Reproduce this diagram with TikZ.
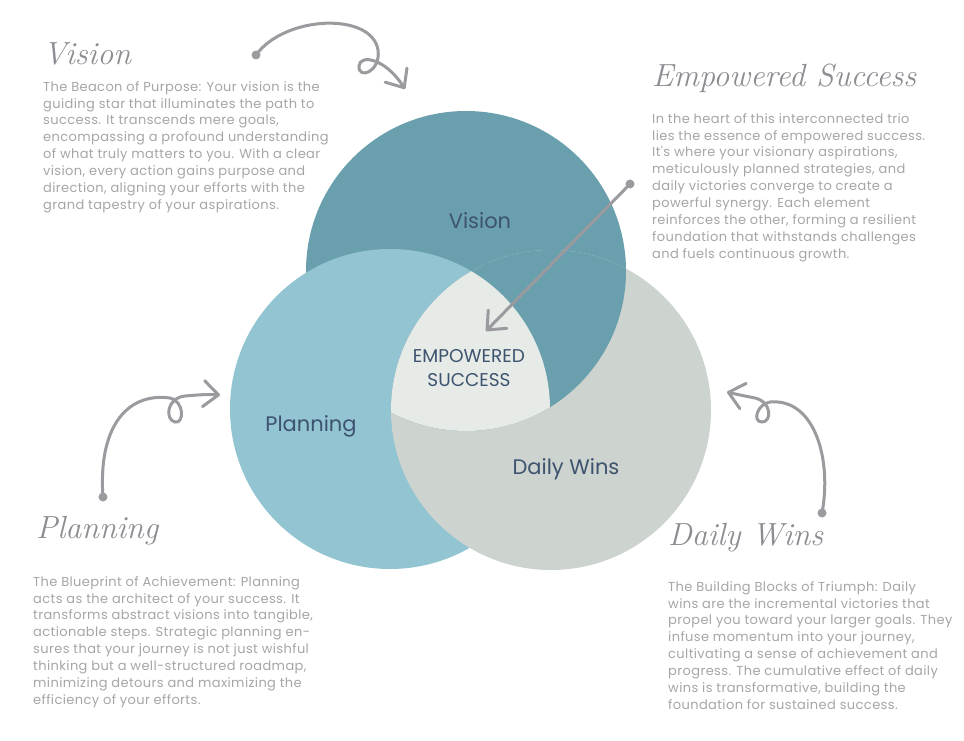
\documentclass[tikz,border=0pt]{standalone}
\usepackage{fontspec}
\usepackage{xcolor}
\usetikzlibrary{arrows.meta}
\newfontfamily\bodyfont{Poppins}
\newfontfamily\blurbfont{Poppins}[LetterSpace=3]
\definecolor{visionteal}{HTML}{6AA0AD}
\definecolor{planblue}{HTML}{93C4D2}
\definecolor{winsgray}{HTML}{CDD3CE}
\definecolor{corelight}{HTML}{E6EBE7}
\definecolor{labelnavy}{HTML}{3D5370}
\definecolor{bodygray}{HTML}{A6A6A8}
\definecolor{titlegray}{HTML}{8C8C92}
\definecolor{arrowgray}{HTML}{9A9A9F}

\begin{document}
\begin{tikzpicture}[
    x=1pt, y=-1pt,
    body/.style={anchor=north west, align=left, inner sep=0pt, text=bodygray,
      font=\blurbfont\fontsize{13}{16.9}\selectfont},
    title/.style={anchor=base west, inner sep=0pt, text=titlegray,
      font=\itshape\fontsize{32}{32}\selectfont},
    circlelabel/.style={align=center, text=labelnavy, font=\bodyfont\fontsize{21}{24}\selectfont},
    startdot/.style={circle, fill=arrowgray, inner sep=0pt, minimum size=9pt},
    curl/.style={draw=arrowgray, line width=3pt, line cap=round,
      -{Straight Barb[length=15pt, width=26pt, round]}}
  ]
    \useasboundingbox (0,0) rectangle (964,741);
    \fill[white] (0,0) rectangle (964,741);

    % circle centres
    \coordinate (vc) at (466,271);
    \coordinate (pc) at (390,409);
    \coordinate (dc) at (551,410);

    \fill[visionteal] (vc) circle[radius=160pt];
    \fill[planblue] (pc) circle[radius=160pt];
    \fill[winsgray] (dc) circle[radius=160pt];
    \begin{scope}
      \clip (dc) circle[radius=160pt];
      \fill[visionteal] (vc) circle[radius=160pt];
    \end{scope}
    \begin{scope}
      \clip (pc) circle[radius=160pt];
      \clip (dc) circle[radius=160pt];
      \fill[corelight] (vc) circle[radius=160pt];
    \end{scope}

    \node[circlelabel] (vlabel) at (480,221) {Vision};
    \node[circlelabel] (plabel) at (311,426) {Planning};
    \node[circlelabel] (dlabel) at (566,469) {Daily Wins};
    \node[circlelabel, font=\bodyfont\fontsize{18.5}{24}\selectfont] (elabel) at (469,368) {EMPOWERED\\SUCCESS};

    % text blocks
    \node[title] (vtitle) at (43,65) {Vision};
    \node[body] (vbody) at (43,81) {The Beacon of Purpose: Your vision is the\\
      guiding star that illuminates the path to\\
      success. It transcends mere goals,\\
      encompassing a profound understanding\\
      of what truly matters to you. With a clear\\
      vision, every action gains purpose and\\
      direction, aligning your efforts with the\\
      grand tapestry of your aspirations.};

    \node[title] (etitle) at (652,87) {Empowered Success};
    \node[body] (ebody) at (652,113) {In the heart of this interconnected trio\\
      lies the essence of empowered success.\\
      It's where your visionary aspirations,\\
      meticulously planned strategies, and\\
      daily victories converge to create a\\
      powerful synergy. Each element\\
      reinforces the other, forming a resilient\\
      foundation that withstands challenges\\
      and fuels continuous growth.};

    \node[title] (ptitle) at (36,538) {Planning};
    \node[body] (pbody) at (33,576) {The Blueprint of Achievement: Planning\\
      acts as the architect of your success. It\\
      transforms abstract visions into tangible,\\
      actionable steps. Strategic planning en-\\
      sures that your journey is not just wishful\\
      thinking but a well-structured roadmap,\\
      minimizing detours and maximizing the\\
      efficiency of your efforts.};

    \node[title] (dtitle) at (668,545) {Daily Wins};
    \node[body] (dbody) at (668,581) {The Building Blocks of Triumph: Daily\\
      wins are the incremental victories that\\
      propel you toward your larger goals. They\\
      infuse momentum into your journey,\\
      cultivating a sense of achievement and\\
      progress. The cumulative effect of daily\\
      wins is transformative, building the\\
      foundation for sustained success.};

    % curly arrows
    \node[startdot] (vdot) at (256,55) {};
    \coordinate (vtip) at (405,89);
    \draw[curl] (vdot.center) .. controls (285,15) and (372,12) .. (378,50)
      .. controls (381,72) and (358,80) .. (359,66)
      .. controls (360,54) and (385,58) .. (vtip);

    \node[startdot] (edot) at (630,184) {};
    \coordinate (etip) at (486,331);
    \draw[curl] (edot.center) -- (etip);

    \node[startdot] (pdot) at (103,497) {};
    \coordinate (ptip) at (220,395);
    \draw[curl] (pdot.center) .. controls (98,430) and (125,392) .. (170,398)
      .. controls (185,402) and (184,424) .. (175,422)
      .. controls (165,420) and (166,398) .. (185,396)
      .. controls (197,395) and (208,394) .. (ptip);

    \node[startdot] (ddot) at (822,513) {};
    \coordinate (dtip) at (727,392);
    \draw[curl] (ddot.center) .. controls (832,460) and (815,398) .. (770,402)
      .. controls (757,404) and (752,422) .. (762,422)
      .. controls (772,422) and (772,402) .. (755,398)
      .. controls (745,396) and (735,394) .. (dtip);
  \end{tikzpicture}
\end{document}
